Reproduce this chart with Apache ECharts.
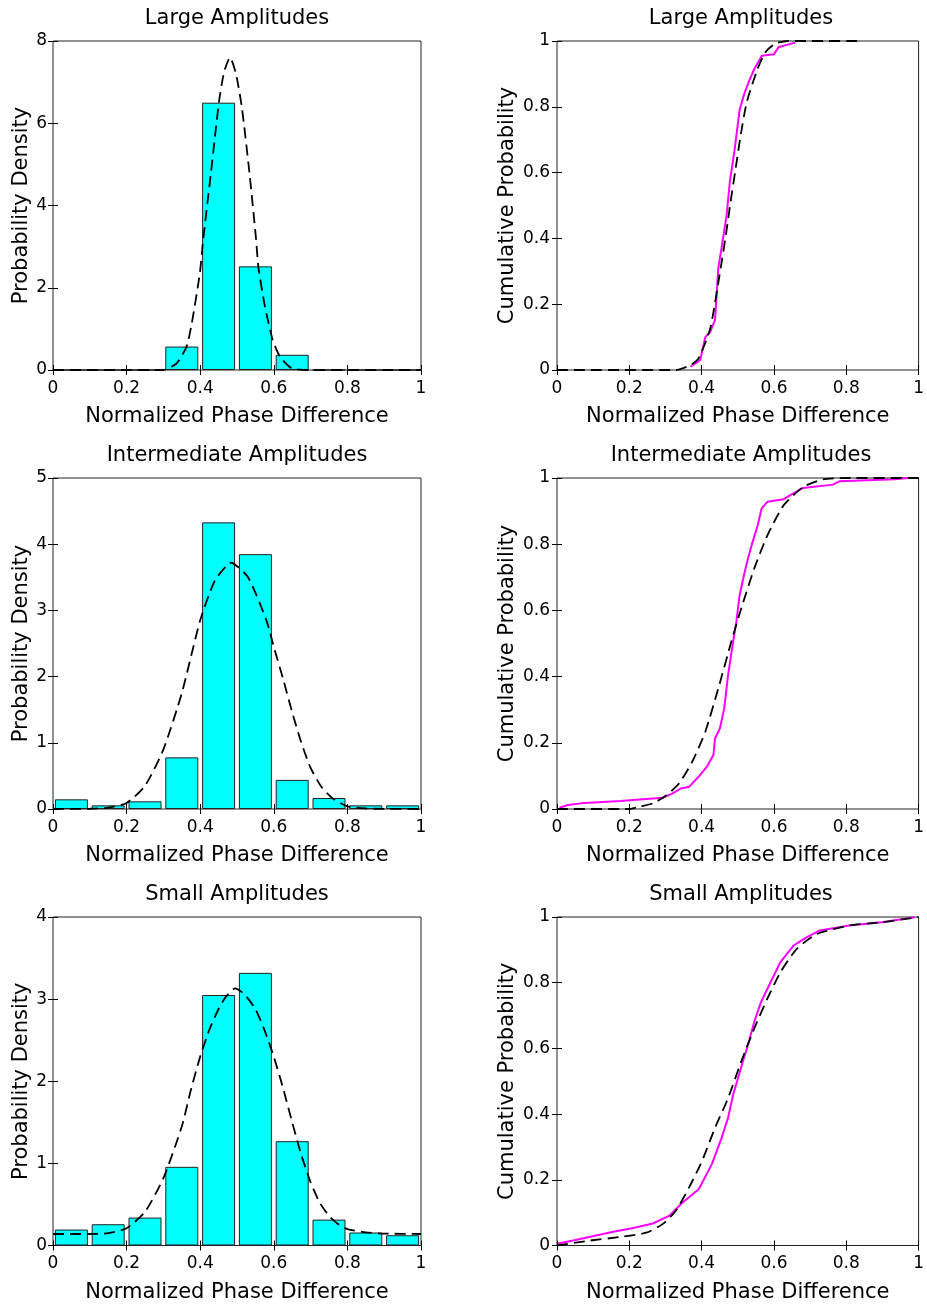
<!DOCTYPE html>
<html>
<head>
<meta charset="utf-8">
<script src="https://cdn.jsdelivr.net/npm/echarts@6/dist/echarts.min.js"></script>
<style>
  html, body { margin: 0; padding: 0; background: #fff; }
  #chart { width: 927px; height: 1304px; }
</style>
</head>
<body>
<div id="chart"></div>
<script>
// ---------- data ----------
const panelTitles = ['Large Amplitudes', 'Intermediate Amplitudes', 'Small Amplitudes'];
const pdfYMax = [8, 5, 4];
const pdfYInterval = [2, 1, 1];

const binCenters = [0.05, 0.15, 0.25, 0.35, 0.45, 0.55, 0.65, 0.75, 0.85, 0.95];
const largeHist = [0, 0, 0, 0.57, 6.5, 2.52, 0.37, 0, 0, 0];
const interHist = [0.146, 0.055, 0.116, 0.78, 4.33, 3.85, 0.44, 0.166, 0.055, 0.055];
const smallHist = [0.194, 0.259, 0.34, 0.958, 3.05, 3.32, 1.27, 0.315, 0.158, 0.125];

const largePdfFitX = [0, 0.1, 0.2, 0.3, 0.309, 0.336, 0.363, 0.377, 0.399, 0.408, 0.429, 0.451, 0.465, 0.481, 0.497, 0.513, 0.534, 0.552, 0.558, 0.576, 0.597, 0.617, 0.649, 0.7, 0.8, 0.9, 1];
const largePdfFitY = [0, 0, 0, 0, 0.02, 0.16, 0.57, 1.13, 2.35, 3.16, 4.78, 6.52, 7.25, 7.6, 7.21, 6.4, 4.78, 3.16, 2.51, 1.54, 0.73, 0.32, 0.04, 0, 0, 0, 0];

const interPdfFitX = [0, 0.1, 0.15, 0.2, 0.25, 0.3, 0.35, 0.4, 0.44, 0.484, 0.53, 0.58, 0.6, 0.625, 0.65, 0.675, 0.7, 0.73, 0.76, 0.8, 0.85, 0.9, 1];
const interPdfFitY = [0, 0.004, 0.02, 0.09, 0.35, 0.9, 1.75, 2.85, 3.45, 3.72, 3.5, 2.85, 2.45, 1.97, 1.46, 1.0, 0.62, 0.33, 0.16, 0.04, 0.008, 0.002, 0];

const smallPdfFitX = [0, 0.1, 0.15, 0.2, 0.25, 0.3, 0.35, 0.375, 0.4, 0.425, 0.45, 0.47, 0.495, 0.52, 0.55, 0.575, 0.6, 0.625, 0.65, 0.675, 0.7, 0.725, 0.75, 0.775, 0.8, 0.85, 0.9, 1];
const smallPdfFitY = [0.14, 0.14, 0.15, 0.21, 0.41, 0.82, 1.45, 1.9, 2.3, 2.63, 2.88, 3.03, 3.13, 3.06, 2.88, 2.62, 2.3, 1.92, 1.5, 1.1, 0.77, 0.52, 0.36, 0.26, 0.2, 0.16, 0.145, 0.14];

const largeEmpX = [0.369, 0.396, 0.41, 0.4235, 0.437, 0.446, 0.455, 0.469, 0.478, 0.491, 0.505, 0.518, 0.532, 0.546, 0.5665, 0.6, 0.6135, 0.659];
const largeEmpY = [0.01, 0.03, 0.1, 0.115, 0.152, 0.309, 0.37, 0.47, 0.572, 0.668, 0.79, 0.84, 0.88, 0.916, 0.955, 0.96, 0.982, 0.995];
const largeCdfFitX = [0, 0.33, 0.347, 0.37, 0.392, 0.424, 0.4525, 0.467, 0.48, 0.494, 0.508, 0.525, 0.555, 0.577, 0.605, 0.64, 0.84];
const largeCdfFitY = [0, 0, 0.005, 0.015, 0.036, 0.127, 0.309, 0.41, 0.511, 0.612, 0.714, 0.815, 0.916, 0.967, 0.993, 1, 1];

const interEmpX = [0.007, 0.03, 0.066, 0.175, 0.292, 0.32, 0.342, 0.365, 0.392, 0.4145, 0.4327, 0.437, 0.4506, 0.4625, 0.473, 0.487, 0.496, 0.505, 0.517, 0.528, 0.541, 0.555, 0.566, 0.582, 0.627, 0.645, 0.681, 0.763, 0.781, 0.935, 0.97];
const interEmpY = [0.004, 0.012, 0.017, 0.024, 0.034, 0.047, 0.062, 0.067, 0.098, 0.128, 0.163, 0.213, 0.244, 0.304, 0.404, 0.505, 0.565, 0.646, 0.706, 0.757, 0.807, 0.857, 0.908, 0.928, 0.936, 0.948, 0.97, 0.98, 0.99, 0.996, 1.0];
const interCdfFitX = [0, 0.2, 0.229, 0.265, 0.301, 0.338, 0.374, 0.41, 0.446, 0.482, 0.5095, 0.5456, 0.582, 0.627, 0.681, 0.7357, 0.8, 1];
const interCdfFitY = [0, 0, 0.007, 0.017, 0.04, 0.078, 0.143, 0.233, 0.364, 0.505, 0.606, 0.727, 0.827, 0.918, 0.973, 0.996, 1, 1];

const smallEmpX = [0.003, 0.048, 0.102, 0.156, 0.211, 0.265, 0.31, 0.3466, 0.392, 0.428, 0.455, 0.473, 0.487, 0.5005, 0.514, 0.528, 0.5456, 0.564, 0.591, 0.618, 0.654, 0.69, 0.727, 0.808, 0.8985, 0.989];
const smallEmpY = [0.006, 0.016, 0.029, 0.042, 0.053, 0.067, 0.09, 0.13, 0.171, 0.247, 0.327, 0.388, 0.459, 0.509, 0.56, 0.61, 0.681, 0.741, 0.802, 0.863, 0.913, 0.938, 0.959, 0.974, 0.984, 0.999];
const smallCdfFitX = [0, 0.084, 0.175, 0.247, 0.292, 0.328, 0.365, 0.401, 0.437, 0.473, 0.5095, 0.5456, 0.582, 0.618, 0.663, 0.718, 0.808, 0.8985, 0.99, 1];
const smallCdfFitY = [0, 0.014, 0.026, 0.039, 0.065, 0.105, 0.176, 0.257, 0.358, 0.448, 0.56, 0.661, 0.752, 0.832, 0.903, 0.948, 0.974, 0.984, 0.998, 1];

// ---------- build ----------
const zip = (xs, ys) => xs.map((x, i) => [x, ys[i]]);
const FONT = 'DejaVu Sans, Liberation Sans, sans-serif';

const hists = [largeHist, interHist, smallHist];
const pdfFits = [[largePdfFitX, largePdfFitY], [interPdfFitX, interPdfFitY], [smallPdfFitX, smallPdfFitY]];
const emps = [[largeEmpX, largeEmpY], [interEmpX, interEmpY], [smallEmpX, smallEmpY]];
const cdfFits = [[largeCdfFitX, largeCdfFitY], [interCdfFitX, interCdfFitY], [smallCdfFitX, smallCdfFitY]];

const rowTops = [41, 478, 917];
const rowHeights = [329, 331, 330];
const colLefts = [53, 557];
const W = 368;
const DASH = { color: '#000', width: 1.8, type: [11, 6] };

const grid = [], xAxis = [], yAxis = [], series = [], title = [];

function addAxes(gi, yMax, yInt, yName, yNameGap, yLabelMargin) {
  const tick = { show: true, inside: true, length: 5, lineStyle: { color: '#000', width: 1 } };
  xAxis.push({
    gridIndex: gi, type: 'value', min: 0, max: 1, interval: 0.2, position: 'bottom',
    axisLine: { show: false }, axisTick: tick, splitLine: { show: false },
    axisLabel: { fontSize: 17, color: '#000', margin: 10, fontFamily: FONT },
    name: 'Normalized Phase Difference', nameLocation: 'middle', nameGap: 47,
    nameTextStyle: { fontSize: 21, color: '#000', fontFamily: FONT, verticalAlign: 'middle' }
  });
  xAxis.push({
    gridIndex: gi, type: 'value', min: 0, max: 1, interval: 0.2, position: 'top',
    axisLine: { show: false }, axisTick: tick, splitLine: { show: false },
    axisLabel: { show: false }
  });
  yAxis.push({
    gridIndex: gi, type: 'value', min: 0, max: yMax, interval: yInt, position: 'left',
    axisLine: { show: false }, axisTick: tick, splitLine: { show: false },
    axisLabel: { fontSize: 17, color: '#000', margin: yLabelMargin, fontFamily: FONT },
    name: yName, nameLocation: 'middle', nameGap: yNameGap, nameRotate: 90,
    nameTextStyle: { fontSize: 21, color: '#000', fontFamily: FONT, verticalAlign: 'middle' }
  });
  yAxis.push({
    gridIndex: gi, type: 'value', min: 0, max: yMax, interval: yInt, position: 'right',
    axisLine: { show: false }, axisTick: tick, splitLine: { show: false },
    axisLabel: { show: false }
  });
}

for (let r = 0; r < 3; r++) {
  for (let c = 0; c < 2; c++) {
    const gi = r * 2 + c;
    grid.push({
      left: colLefts[c], top: rowTops[r], width: W, height: rowHeights[r],
      show: true, borderColor: '#222', borderWidth: 1, backgroundColor: '#fff',
      containLabel: false
    });
    title.push({
      text: panelTitles[r], left: colLefts[c] + W / 2, top: rowTops[r] - 33,
      textAlign: 'center', padding: 0,
      textStyle: { fontSize: 21, fontWeight: 'normal', color: '#000', fontFamily: FONT }
    });
    if (c === 0) {
      addAxes(gi, pdfYMax[r], pdfYInterval[r], 'Probability Density', 31, 6);
      series.push({
        type: 'bar', xAxisIndex: gi * 2, yAxisIndex: gi * 2,
        data: zip(binCenters, hists[r]), barWidth: 33, z: 2,
        itemStyle: { color: '#00FFFF', borderColor: '#222', borderWidth: 1 },
        emphasis: { disabled: true }, animation: false
      });
      series.push({
        type: 'line', xAxisIndex: gi * 2, yAxisIndex: gi * 2,
        data: zip(pdfFits[r][0], pdfFits[r][1]), symbol: 'none', smooth: 0.2, z: 3,
        lineStyle: DASH, animation: false
      });
    } else {
      addAxes(gi, 1, 0.2, 'Cumulative Probability', 49, 7);
      series.push({
        type: 'line', xAxisIndex: gi * 2, yAxisIndex: gi * 2,
        data: zip(emps[r][0], emps[r][1]), symbol: 'none', z: 2,
        lineStyle: { color: '#FF00FF', width: 2 }, animation: false
      });
      series.push({
        type: 'line', xAxisIndex: gi * 2, yAxisIndex: gi * 2,
        data: zip(cdfFits[r][0], cdfFits[r][1]), symbol: 'none', smooth: 0.2, z: 3,
        lineStyle: DASH, animation: false
      });
    }
  }
}

const chart = echarts.init(document.getElementById('chart'), null, { renderer: 'canvas' });
chart.setOption({
  animation: false,
  backgroundColor: '#fff',
  textStyle: { fontFamily: FONT },
  title, grid, xAxis, yAxis, series
});
</script>
</body>
</html>
